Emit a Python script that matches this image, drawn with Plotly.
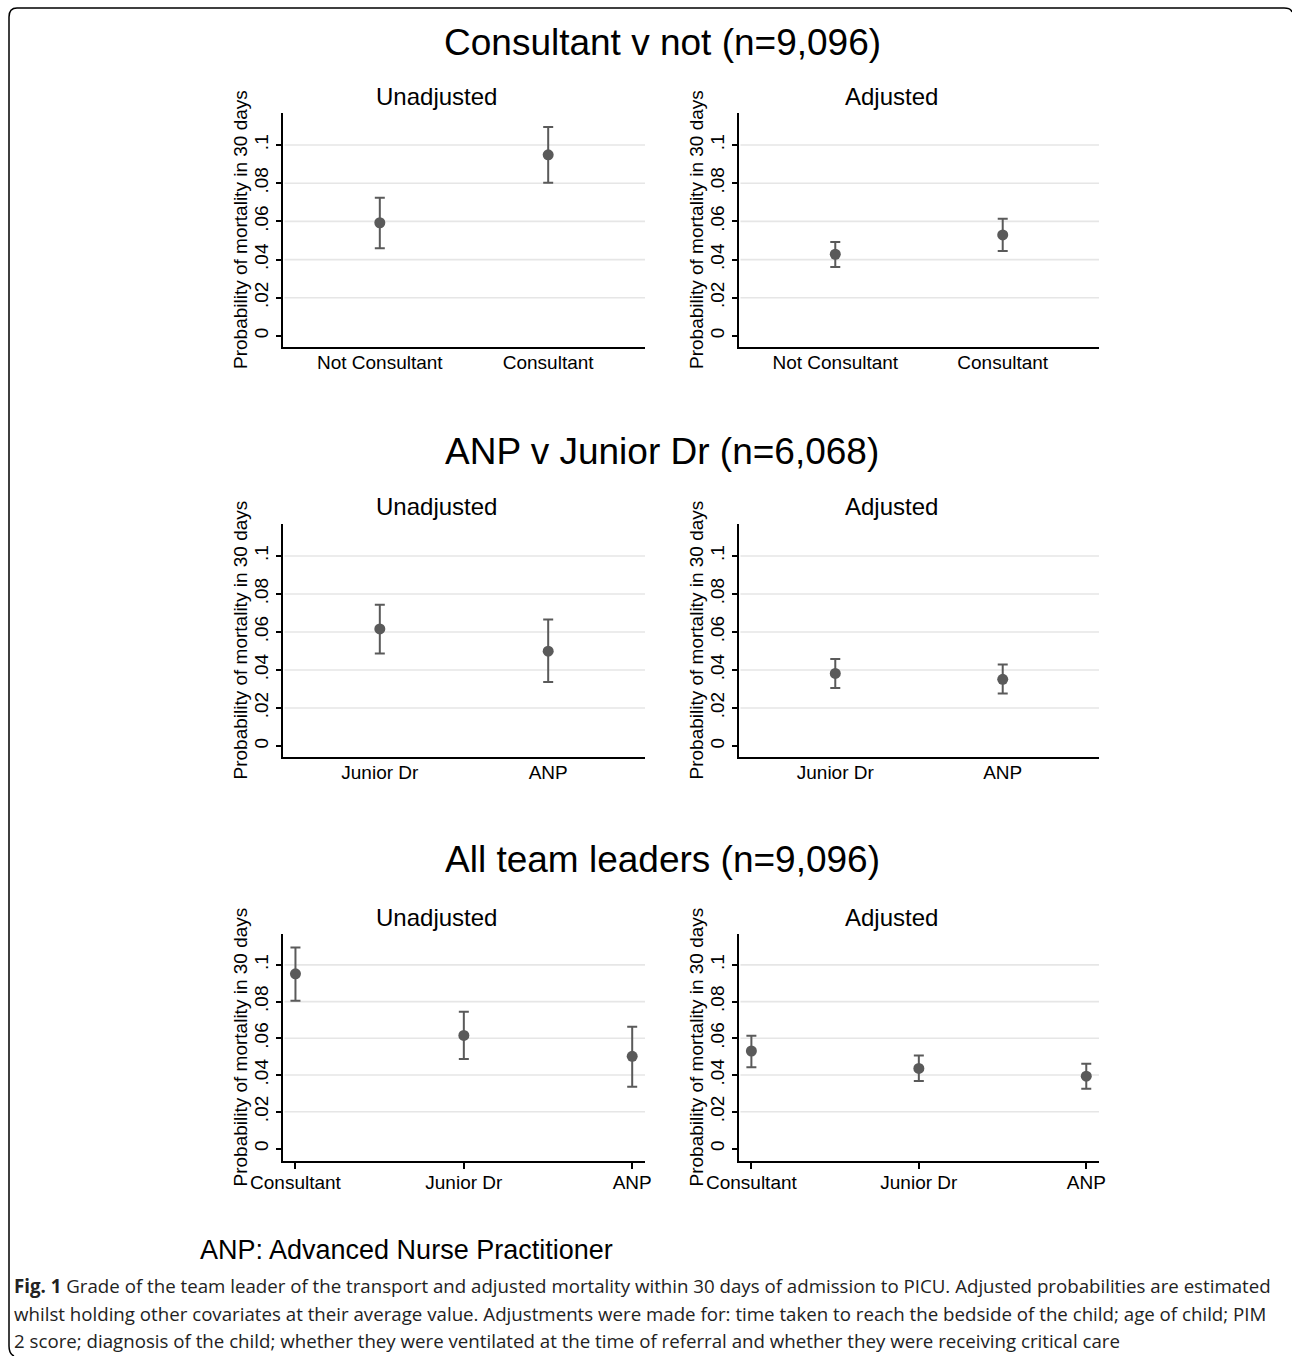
import plotly.graph_objects as go

W, H = 1292, 1356

# ---------------- data ----------------
y_ticks = [0, 0.02, 0.04, 0.06, 0.08, 0.1]
y_tick_labels = ["0", ".02", ".04", ".06", ".08", ".1"]

cons_cats = ["Not Consultant", "Consultant"]
cons_unadj = [0.0593, 0.0949]
cons_unadj_lo = [0.0459, 0.0803]
cons_unadj_hi = [0.0724, 0.1094]
cons_adj = [0.0428, 0.0529]
cons_adj_lo = [0.0361, 0.0445]
cons_adj_hi = [0.0492, 0.0614]

anp_cats = ["Junior Dr", "ANP"]
anp_unadj = [0.0616, 0.0499]
anp_unadj_lo = [0.0487, 0.0337]
anp_unadj_hi = [0.0743, 0.0665]
anp_adj = [0.0382, 0.0351]
anp_adj_lo = [0.0305, 0.0276]
anp_adj_hi = [0.0457, 0.0429]

all_cats = ["Consultant", "Junior Dr", "ANP"]
all_unadj = [0.0951, 0.0616, 0.0502]
all_unadj_lo = [0.0805, 0.0487, 0.0336]
all_unadj_hi = [0.1094, 0.0745, 0.0663]
all_adj = [0.0531, 0.0436, 0.0394]
all_adj_lo = [0.0443, 0.0367, 0.0325]
all_adj_hi = [0.0614, 0.0507, 0.0461]

row_titles = ["Consultant v not (n=9,096)", "ANP v Junior Dr (n=6,068)", "All team leaders (n=9,096)"]
panel_titles = ["Unadjusted", "Adjusted"]
y_title = "Probability of mortality in 30 days"
footnote = "ANP: Advanced Nurse Practitioner"
caption_lines = [
    "<b>Fig. 1</b> Grade of the team leader of the transport and adjusted mortality within 30 days of admission to PICU. Adjusted probabilities are estimated",
    "whilst holding other covariates at their average value. Adjustments were made for: time taken to reach the bedside of the child; age of child; PIM",
    "2 score; diagnosis of the child; whether they were ventilated at the time of referral and whether they were receiving critical care",
]

panels = [
    (cons_cats, cons_unadj, cons_unadj_lo, cons_unadj_hi),
    (cons_cats, cons_adj, cons_adj_lo, cons_adj_hi),
    (anp_cats, anp_unadj, anp_unadj_lo, anp_unadj_hi),
    (anp_cats, anp_adj, anp_adj_lo, anp_adj_hi),
    (all_cats, all_unadj, all_unadj_lo, all_unadj_hi),
    (all_cats, all_adj, all_adj_lo, all_adj_hi),
]

# ---------------- layout geometry (pixels) ----------------
FONT = "Arial, Liberation Sans, sans-serif"
col_x = [(283, 645), (739, 1099)]
row_y = [(113, 347), (524, 757), (934, 1161)]
row_title_y = [42, 451, 860]
panel_title_y = [97, 507, 917]
panel_title_x = [436, 891]
ytitle_x = [240, 696]
y_ranges = [[-0.0058, 0.1168], [-0.0058, 0.1168], [-0.0068, 0.1168]]
x_ranges_2 = [-0.575, 1.575]
x_ranges_3 = [-0.074, 2.076]

def px(x):
    return x / W

def py(y):
    return 1 - y / H

MARK = "#5a5a5a"
GRID = "#e6e6e6"

fig = go.Figure()
layout = dict(
    template="none",
    width=W, height=H, autosize=False,
    margin=dict(l=0, r=0, t=0, b=0, pad=0, autoexpand=False),
    paper_bgcolor="white", plot_bgcolor="white",
    showlegend=False,
    font=dict(family=FONT, color="black"),
)
annotations = []
shapes = []

for i, (cats, val, lo, hi) in enumerate(panels):
    r, c = divmod(i, 2)
    n = i + 1
    xa = "x" if n == 1 else f"x{n}"
    ya = "y" if n == 1 else f"y{n}"
    xs = list(range(len(cats)))
    fig.add_trace(go.Scatter(
        x=xs, y=val, xaxis=xa, yaxis=ya, mode="markers",
        marker=dict(color=MARK, size=11, line=dict(width=0)),
        error_y=dict(type="data", symmetric=False,
                     array=[h - v for h, v in zip(hi, val)],
                     arrayminus=[v - l for v, l in zip(val, lo)],
                     color=MARK, thickness=2, width=5),
        hoverinfo="skip",
    ))
    three = len(cats) == 3
    layout["xaxis" if n == 1 else f"xaxis{n}"] = dict(
        domain=[px(col_x[c][0]), px(col_x[c][1])],
        anchor=ya, range=x_ranges_3 if three else x_ranges_2,
        tickvals=xs, ticktext=cats, automargin=False,
        ticks="outside" if three else "", ticklen=6, tickwidth=1.5, tickcolor="black",
        showline=True, linecolor="black", linewidth=2,
        showgrid=False, zeroline=False,
        tickfont=dict(size=19, family=FONT, color="black"),
        ticklabelstandoff=-3,
        fixedrange=True,
    )
    layout["yaxis" if n == 1 else f"yaxis{n}"] = dict(
        domain=[py(row_y[r][1]), py(row_y[r][0])],
        anchor=xa, range=y_ranges[r], automargin=False,
        tickvals=y_ticks, ticktext=y_tick_labels, tickangle=-90,
        ticks="outside", ticklen=5, tickwidth=1.5, tickcolor="black",
        showline=True, linecolor="black", linewidth=2,
        showgrid=False, zeroline=False,
        tickfont=dict(size=19, family=FONT, color="black"),
        ticklabelstandoff=0,
        fixedrange=True,
    )
    # gridlines (Stata omits the one at 0)
    for t in y_ticks[1:]:
        shapes.append(dict(type="line", xref=f"{xa} domain", yref=ya,
                           x0=0.004, x1=1, y0=t, y1=t,
                           line=dict(color=GRID, width=1.6), layer="below"))
    annotations.append(dict(text=panel_titles[c], x=px(panel_title_x[c]), y=py(panel_title_y[r]),
                            xref="paper", yref="paper", showarrow=False,
                            xanchor="center", yanchor="middle",
                            font=dict(size=24, family=FONT, color="black")))
    annotations.append(dict(text=y_title, textangle=-90,
                            x=px(ytitle_x[c]), y=py((row_y[r][0] + row_y[r][1]) / 2),
                            xref="paper", yref="paper", showarrow=False,
                            xanchor="center", yanchor="middle",
                            font=dict(size=19, family=FONT, color="black")))

for r, t in enumerate(row_titles):
    annotations.append(dict(text=t, x=px(662), y=py(row_title_y[r]), xref="paper", yref="paper",
                            showarrow=False, xanchor="center", yanchor="middle",
                            font=dict(size=37, family=FONT, color="black")))

annotations.append(dict(text=footnote, x=px(198), y=py(1250), xref="paper", yref="paper",
                        showarrow=False, xanchor="left", yanchor="middle",
                        font=dict(size=27, family=FONT, color="black")))

cap_y = [1285, 1313, 1340]
for yy, line in zip(cap_y, caption_lines):
    annotations.append(dict(text=line, x=px(12), y=py(yy), xref="paper", yref="paper",
                            showarrow=False, xanchor="left", yanchor="middle",
                            font=dict(size=18.7, family="Open Sans, sans-serif", color="#222222")))

# outer rounded frame
frame = (f"M {px(9)},{py(1346)} L {px(9)},{py(17)} Q {px(9)},{py(8)} {px(17)},{py(8)} "
         f"L {px(1284)},{py(8)} Q {px(1291)},{py(8)} {px(1292)},{py(12)}")
shapes.append(dict(type="path", xref="paper", yref="paper", path=frame,
                   line=dict(color="black", width=1.5)))
frame2 = f"M {px(9)},{py(1346)} Q {px(9)},{py(1354)} {px(14)},{py(1356)}"
shapes.append(dict(type="path", xref="paper", yref="paper", path=frame2,
                   line=dict(color="black", width=1.5)))

layout["annotations"] = annotations
layout["shapes"] = shapes
fig.update_layout(**layout)
fig.write_html(
    "out.html",
    config={"responsive": False, "displayModeBar": False},
    post_script="document.body.style.margin='0px';document.body.style.overflow='hidden';",
)
